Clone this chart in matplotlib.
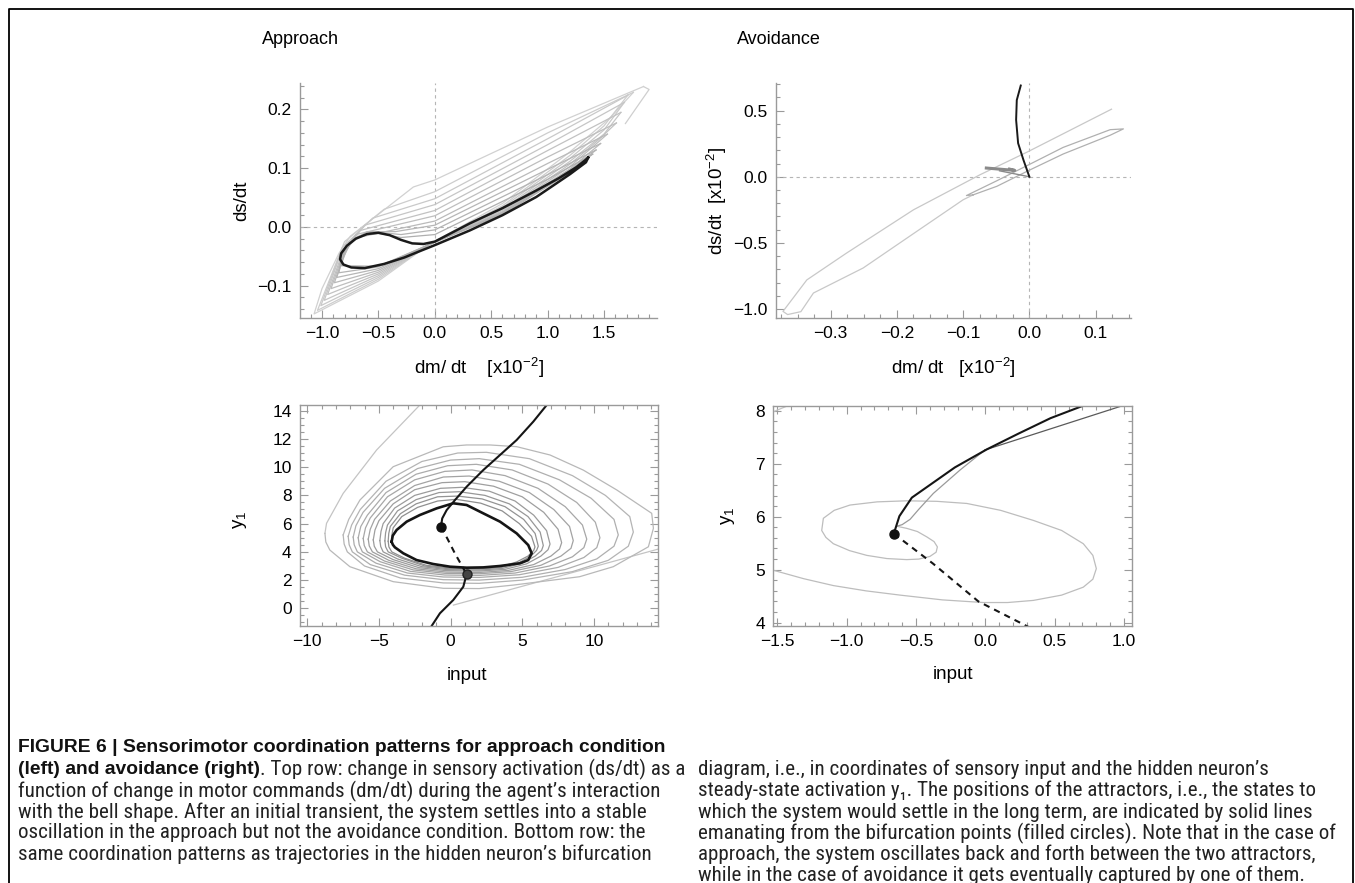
import matplotlib
matplotlib.use("Agg")
import matplotlib.pyplot as plt
from matplotlib import font_manager
from matplotlib.lines import Line2D
from matplotlib.ticker import MultipleLocator

# Fonts: Helvetica-like sans, with a fallback for the subscript digit.
plt.rcParams['font.family'] = ['Liberation Sans', 'DejaVu Sans']
plt.rcParams['mathtext.fontset'] = 'custom'
plt.rcParams['mathtext.rm'] = 'Liberation Sans'
plt.rcParams['mathtext.it'] = 'Liberation Sans:italic'
plt.rcParams['mathtext.bf'] = 'Liberation Sans:bold'

# ---------------- data ----------------
# Approach, phase plane (ds/dt vs dm/dt [x1e-2]); transient spiral, lap by lap
ap_start = [(1.69, 0.176), (1.90, 0.234), (1.85, 0.239)]
ap_laps = [
    [(1.85, 0.239), (1.0, 0.170), (0.0, 0.080), (-0.19, 0.068), (-0.75, -0.016), (-0.85, -0.045),
     (-1.0, -0.105), (-1.07, -0.148), (-0.5, -0.092), (-0.05, -0.030), (0.6, 0.040), (1.2, 0.128),
     (1.55, 0.185), (1.76, 0.229)],
    [(1.76, 0.229), (1.0, 0.160), (0.0, 0.060), (-0.45, 0.030), (-0.80, -0.025), (-1.04, -0.142),
     (-0.5, -0.089), (-0.05, -0.030), (0.6, 0.036), (1.2, 0.122), (1.5, 0.172), (1.71, 0.224)],
    [(1.71, 0.224), (1.0, 0.150), (0.0, 0.048), (-0.55, 0.015), (-0.82, -0.035), (-1.01, -0.134),
     (-0.5, -0.086), (-0.05, -0.030), (0.6, 0.033), (1.2, 0.117), (1.5, 0.165), (1.68, 0.212)],
    [(1.68, 0.212), (1.0, 0.140), (0.0, 0.038), (-0.62, 0.003), (-0.83, -0.043), (-0.98, -0.125),
     (-0.5, -0.083), (-0.05, -0.030), (0.6, 0.030), (1.2, 0.112), (1.5, 0.158), (1.65, 0.195)],
    [(1.65, 0.195), (1.0, 0.130), (0.0, 0.028), (-0.66, -0.006), (-0.83, -0.050), (-0.95, -0.115),
     (-0.5, -0.080), (-0.05, -0.030), (0.6, 0.028), (1.2, 0.107), (1.45, 0.148), (1.61, 0.177)],
    [(1.61, 0.177), (1.0, 0.119), (0.0, 0.019), (-0.70, -0.013), (-0.83, -0.055), (-0.92, -0.105),
     (-0.5, -0.077), (-0.05, -0.030), (0.6, 0.026), (1.2, 0.103), (1.53, 0.158)],
    [(1.53, 0.158), (1.0, 0.108), (0.0, 0.010), (-0.73, -0.020), (-0.83, -0.060), (-0.89, -0.095),
     (-0.5, -0.074), (-0.05, -0.030), (0.6, 0.025), (1.2, 0.099), (1.47, 0.142)],
    [(1.47, 0.142), (1.0, 0.098), (0.0, 0.003), (-0.35, -0.008), (-0.6, -0.008), (-0.76, -0.026),
     (-0.87, -0.086), (-0.5, -0.071), (-0.05, -0.030), (0.6, 0.024), (1.2, 0.097), (1.43, 0.131)],
    [(1.43, 0.131), (1.0, 0.089), (0.0, -0.005), (-0.3, -0.013), (-0.55, -0.008), (-0.72, -0.020),
     (-0.82, -0.045), (-0.85, -0.078), (-0.5, -0.068), (-0.05, -0.030), (0.6, 0.023), (1.2, 0.095),
     (1.40, 0.124)],
    [(1.40, 0.124), (1.0, 0.081), (0.0, -0.013), (-0.3, -0.018), (-0.52, -0.010), (-0.68, -0.016),
     (-0.8, -0.040), (-0.83, -0.066), (-0.5, -0.067), (-0.05, -0.030), (0.6, 0.021), (1.2, 0.093),
     (1.37, 0.120)],
]
ap_cycle = [(1.36, 0.118), (1.33, 0.113), (1.25, 0.101), (1.1, 0.083), (0.9, 0.062), (0.6, 0.032),
            (0.31, 0.006), (0.0, -0.025), (-0.1, -0.029), (-0.2, -0.028), (-0.3, -0.022),
            (-0.4, -0.014), (-0.5, -0.010), (-0.6, -0.012), (-0.7, -0.020), (-0.78, -0.032),
            (-0.83, -0.045), (-0.84, -0.055), (-0.81, -0.064), (-0.74, -0.069), (-0.62, -0.070),
            (-0.45, -0.063), (-0.27, -0.052), (-0.13, -0.041), (0.0, -0.031), (0.31, -0.006),
            (0.6, 0.020), (0.9, 0.051), (1.2, 0.090), (1.34, 0.110), (1.36, 0.118)]

# Avoidance, phase plane (both axes x1e-2)
av_big = [(0.124, 0.511), (-0.002, 0.19), (-0.075, 0.014), (-0.175, -0.25), (-0.276, -0.577),
          (-0.336, -0.78), (-0.372, -1.018), (-0.365, -1.042), (-0.345, -1.02), (-0.326, -0.879),
          (-0.251, -0.69), (-0.175, -0.43), (-0.10, -0.174), (-0.085, -0.137)]
av_small = [(-0.085, -0.137), (-0.095, -0.142), (-0.049, -0.030), (-0.002, 0.088), (0.051, 0.222),
            (0.122, 0.356), (0.142, 0.362), (0.122, 0.314), (0.051, 0.172), (-0.002, 0.045),
            (-0.049, -0.072), (-0.085, -0.137)]
av_hook = [(-0.065, 0.066), (-0.022, 0.048), (-0.030, 0.058)]
av_tail = [(-0.045, 0.045), (0.0, 0.0)]
av_black = [(0.0, 0.0), (-0.009, 0.128), (-0.017, 0.254), (-0.020, 0.43), (-0.019, 0.58),
            (-0.013, 0.69)]

# Approach, bifurcation diagram (y1 vs input)
ap_io_entry = [(0.2, 0.23), (14.5, 4.2)]
ap_io_first = [(-2.14, 14.4), (-5.16, 11.21), (-7.49, 8.14), (-8.65, 6.02), (-8.76, 5.31)]
ap_io_laps = [
    [(-8.76, 5.31), (-8.70, 4.70), (-8.42, 4.13), (-7.02, 2.95), (-4.0, 1.89), (-0.51, 1.42),
     (2.0, 1.40), (4.4, 1.65), (9.0, 2.24), (11.35, 2.95), (13.8, 4.36), (14.15, 5.67), (14.03, 6.73),
     (11.6, 8.38), (9.26, 9.79), (6.94, 10.86), (4.61, 11.45), (2.75, 11.57), (1.12, 11.57),
     (-0.51, 11.44), (-4.0, 10.03), (-6.32, 7.67), (-7.1, 6.3), (-7.49, 5.2)],
    [(-7.49, 5.2), (-7.42, 4.55), (-7.2, 4.0), (-6.0, 3.0), (-3.5, 2.15), (-0.5, 1.80), (2.0, 1.77),
     (5.0, 2.0), (8.5, 2.6), (11.0, 3.4), (12.4, 4.4), (12.75, 5.4), (12.5, 6.5), (10.8, 8.0),
     (8.5, 9.4), (5.5, 10.6), (2.5, 11.05), (0.5, 11.0), (-2.0, 10.4), (-4.5, 9.0), (-6.3, 7.0),
     (-6.9, 5.9), (-7.14, 5.1)],
    [(-7.14, 5.1), (-7.07, 4.5), (-6.85, 4.0), (-5.6, 3.1), (-3.2, 2.35), (-0.5, 2.03), (2.0, 2.0),
     (5.0, 2.2), (8.0, 2.75), (10.2, 3.5), (11.4, 4.4), (11.7, 5.2), (11.4, 6.3), (9.8, 7.8),
     (7.6, 9.1), (4.8, 10.2), (2.0, 10.6), (0.0, 10.5), (-2.3, 9.9), (-4.6, 8.5), (-6.1, 6.8),
     (-6.6, 5.85), (-6.79, 5.05)],
    [(-6.79, 5.05), (-6.72, 4.5), (-6.5, 4.0), (-5.2, 3.2), (-3.0, 2.5), (-0.5, 2.22), (2.0, 2.19),
     (4.8, 2.38), (7.5, 2.9), (9.3, 3.6), (10.2, 4.3), (10.42, 5.0), (10.1, 6.1), (8.8, 7.5),
     (6.8, 8.8), (4.3, 9.8), (1.8, 10.2), (-0.2, 10.1), (-2.4, 9.5), (-4.5, 8.2), (-5.8, 6.6),
     (-6.26, 5.8), (-6.44, 5.0)],
    [(-6.44, 5.0), (-6.37, 4.5), (-6.15, 4.0), (-4.9, 3.3), (-2.8, 2.62), (-0.4, 2.36), (2.0, 2.33),
     (4.5, 2.5), (6.9, 3.0), (8.5, 3.65), (9.3, 4.3), (9.5, 4.9), (9.2, 5.9), (8.0, 7.2),
     (6.1, 8.5), (3.8, 9.4), (1.5, 9.8), (-0.4, 9.7), (-2.5, 9.1), (-4.4, 7.9), (-5.6, 6.4),
     (-5.93, 5.7), (-6.09, 4.95)],
    [(-6.09, 4.95), (-6.02, 4.45), (-5.8, 4.0), (-4.6, 3.35), (-2.6, 2.72), (-0.4, 2.48), (2.0, 2.45),
     (4.2, 2.6), (6.3, 3.05), (7.7, 3.7), (8.4, 4.25), (8.56, 4.8), (8.3, 5.8), (7.2, 7.0),
     (5.5, 8.2), (3.4, 9.0), (1.3, 9.37), (-0.5, 9.3), (-2.5, 8.7), (-4.2, 7.6), (-5.3, 6.3),
     (-5.6, 5.6), (-5.74, 4.9)],
    [(-5.74, 4.9), (-5.67, 4.42), (-5.45, 4.0), (-4.3, 3.4), (-2.4, 2.8), (-0.3, 2.57), (2.0, 2.54),
     (4.0, 2.68), (5.8, 3.1), (7.0, 3.7), (7.6, 4.2), (7.75, 4.65), (7.5, 5.6), (6.5, 6.8),
     (5.0, 7.9), (3.0, 8.65), (1.0, 8.97), (-0.6, 8.9), (-2.5, 8.4), (-4.0, 7.4), (-5.0, 6.2),
     (-5.27, 5.55), (-5.39, 4.85)],
    [(-5.39, 4.85), (-5.32, 4.4), (-5.1, 4.0), (-4.0, 3.45), (-2.2, 2.88), (-0.3, 2.67), (2.0, 2.64),
     (3.8, 2.76), (5.3, 3.15), (6.3, 3.7), (6.8, 4.15), (6.94, 4.55), (6.7, 5.5), (5.8, 6.6),
     (4.5, 7.6), (2.7, 8.3), (0.8, 8.57), (-0.7, 8.5), (-2.5, 8.0), (-3.9, 7.1), (-4.7, 6.0),
     (-4.85, 5.45), (-4.93, 4.8)],
    [(-4.93, 4.8), (-4.87, 4.38), (-4.7, 4.0), (-3.7, 3.5), (-2.0, 2.95), (-0.2, 2.74), (2.0, 2.71),
     (3.6, 2.82), (5.0, 3.2), (5.9, 3.7), (6.35, 4.1), (6.47, 4.45), (6.25, 5.4), (5.4, 6.5),
     (4.1, 7.4), (2.4, 8.0), (0.6, 8.26), (-0.8, 8.2), (-2.4, 7.7), (-3.7, 6.9), (-4.4, 5.9),
     (-4.53, 5.35), (-4.58, 4.78)],
    [(-4.58, 4.78), (-4.53, 4.36), (-4.35, 4.0), (-3.4, 3.55), (-1.8, 3.0), (-0.2, 2.81), (2.0, 2.78),
     (3.5, 2.88), (4.8, 3.25), (5.6, 3.7), (6.0, 4.1), (6.12, 4.4), (5.9, 5.3), (5.1, 6.3),
     (3.8, 7.2), (2.2, 7.75), (0.5, 7.95), (-0.9, 7.9), (-2.4, 7.4), (-3.5, 6.7), (-4.2, 5.8),
     (-4.31, 5.3), (-4.35, 4.75)],
    [(-4.35, 4.75), (-4.3, 4.35), (-4.1, 4.0), (-3.2, 3.55), (-1.7, 3.05), (-0.1, 2.86), (2.0, 2.83),
     (3.4, 2.93), (4.6, 3.28), (5.4, 3.7), (5.8, 4.1), (5.89, 4.35), (5.65, 5.1), (4.8, 6.0),
     (3.6, 6.9), (2.1, 7.45), (0.4, 7.72), (-0.9, 7.6), (-2.3, 7.15), (-3.4, 6.5), (-4.0, 5.7),
     (-4.08, 5.25), (-4.11, 4.72)],
]
ap_io_cycle = [(-4.11, 4.72), (-4.03, 5.15), (-3.76, 5.55), (-3.06, 6.14), (-2.14, 6.61),
               (-0.97, 7.08), (0.19, 7.44), (1.12, 7.32), (2.28, 6.73), (3.45, 6.14), (4.61, 5.31),
               (5.42, 4.48), (5.66, 3.9), (5.42, 3.42), (4.84, 3.19), (3.45, 3.0), (2.28, 2.9),
               (1.12, 2.88), (-0.04, 2.95), (-1.21, 3.14), (-2.37, 3.42), (-3.3, 3.9), (-3.88, 4.32),
               (-4.02, 4.5), (-4.11, 4.72)]
ap_upper_branch = [(-0.67, 5.78), (-0.58, 6.37), (-0.27, 6.96), (0.31, 7.67), (1.12, 8.61),
                   (2.28, 9.79), (3.45, 10.86), (4.61, 11.92), (5.77, 13.22), (6.71, 14.4)]
ap_unstable = [(-0.67, 5.78), (-0.2, 4.9), (0.3, 3.9), (0.8, 3.0), (1.12, 2.41)]
ap_lower_branch = [(1.12, 2.41), (0.89, 1.53), (0.19, 0.59), (-0.74, -0.35), (-1.32, -1.25)]
ap_bif_points = [(-0.67, 5.78), (1.12, 2.41)]

# Avoidance, bifurcation diagram
av_io_corner = [(-1.53, 7.98), (-1.41, 8.11)]
av_io_exit = [(1.007, 8.11), (-0.003, 7.26)]
av_io_curl = [(-0.003, 7.26), (-0.183, 6.88), (-0.375, 6.44), (-0.48, 6.14), (-0.543, 5.95),
              (-0.60, 5.85), (-0.639, 5.82)]
av_io_spiral = [(-0.639, 5.82), (-0.567, 5.78), (-0.49, 5.72), (-0.423, 5.62), (-0.37, 5.53),
                (-0.346, 5.43), (-0.355, 5.33), (-0.40, 5.25), (-0.48, 5.20), (-0.567, 5.19),
                (-0.71, 5.21), (-0.855, 5.27), (-0.98, 5.36), (-1.096, 5.49), (-1.15, 5.61),
                (-1.18, 5.74), (-1.168, 5.97), (-1.09, 6.12), (-0.976, 6.22), (-0.78, 6.28),
                (-0.567, 6.30), (-0.35, 6.29), (-0.134, 6.25), (0.11, 6.12), (0.346, 5.93),
                (0.55, 5.74), (0.706, 5.49), (0.775, 5.27), (0.80, 5.02), (0.775, 4.82),
                (0.706, 4.67), (0.55, 4.52), (0.346, 4.42), (0.16, 4.38), (-0.015, 4.38),
                (-0.31, 4.43), (-0.615, 4.52), (-0.86, 4.60), (-1.096, 4.70), (-1.31, 4.83),
                (-1.53, 4.99)]
av_upper_branch = [(-0.66, 5.68), (-0.62, 6.01), (-0.53, 6.36), (-0.22, 6.93), (0.01, 7.27),
                   (0.24, 7.57), (0.47, 7.86), (0.70, 8.09)]
av_unstable = [(-0.66, 5.68), (-0.38, 5.12), (-0.05, 4.40), (0.31, 3.92)]
av_bif_point = (-0.66, 5.68)

titles = ["Approach", "Avoidance"]
caption_left = [
    ("FIGURE 6 | Sensorimotor coordination patterns for approach condition", ""),
    ("(left) and avoidance (right)", ". Top row: change in sensory activation (ds/dt) as a"),
    ("", "function of change in motor commands (dm/dt) during the agent\u2019s interaction"),
    ("", "with the bell shape. After an initial transient, the system settles into a stable"),
    ("", "oscillation in the approach but not the avoidance condition. Bottom row: the"),
    ("", "same coordination patterns as trajectories in the hidden neuron\u2019s bifurcation"),
]
caption_right = [
    "diagram, i.e., in coordinates of sensory input and the hidden neuron\u2019s",
    "steady-state activation y\u2081. The positions of the attractors, i.e., the states to",
    "which the system would settle in the long term, are indicated by solid lines",
    "emanating from the bifurcation points (filled circles). Note that in the case of",
    "approach, the system oscillates back and forth between the two attractors,",
    "while in the case of avoidance it gets eventually captured by one of them.",
]


def xs(pts):
    return [p[0] for p in pts]


def ys(pts):
    return [p[1] for p in pts]


W, H = 1355, 883
fig = plt.figure(figsize=(W / 100, H / 100), dpi=100)


def box(left, top, right, bottom):
    return [left / W, 1 - bottom / H, (right - left) / W, (bottom - top) / H]


SPINE = '#9a9a9a'


def style(ax, frame, xmaj, xmin, ymaj, ymin):
    ax.xaxis.set_major_locator(MultipleLocator(xmaj))
    ax.xaxis.set_minor_locator(MultipleLocator(xmin))
    ax.yaxis.set_major_locator(MultipleLocator(ymaj))
    ax.yaxis.set_minor_locator(MultipleLocator(ymin))
    for s in ax.spines.values():
        s.set_color(SPINE)
        s.set_linewidth(1.0)
    if not frame:
        ax.spines['top'].set_visible(False)
        ax.spines['right'].set_visible(False)
    ax.tick_params(which='both', direction='in', color=SPINE, labelsize=12.5,
                   top=frame, right=frame, width=0.8)
    ax.tick_params(which='major', length=6, pad=6)
    ax.tick_params(which='minor', length=3)


def labels(ax, xl, yl, xpos, ypos):
    ax.set_xlabel(xl, fontsize=13.5)
    ax.set_ylabel(yl, fontsize=13.5)
    ax.xaxis.set_label_coords(*xpos)
    ax.yaxis.set_label_coords(*ypos)
    ax.xaxis.label.set_va('center')
    ax.yaxis.label.set_va('center')


# ---- top left: approach phase plane ----
ax1 = fig.add_axes(box(300, 83, 657, 318))
ax1.axhline(0, color='#b5b5b5', lw=0.8, ls=(0, (3, 3)))
ax1.axvline(0, color='#b5b5b5', lw=0.8, ls=(0, (3, 3)))
ax1.plot(xs(ap_start), ys(ap_start), color='#cfcfcf', lw=0.9)
for i, lap in enumerate(ap_laps):
    g = 0.82 - 0.015 * i
    ax1.plot(xs(lap), ys(lap), color=(g, g, g), lw=0.9)
ax1.plot(xs(ap_cycle), ys(ap_cycle), color='#1a1a1a', lw=1.8)
ax1.set_xlim(-1.195, 1.97)
ax1.set_ylim(-0.155, 0.245)
style(ax1, False, 0.5, 0.1, 0.1, 0.02)
labels(ax1, 'dm/ dt    [x10$^{-2}$]', 'ds/dt', (0.5, -0.213), (-0.162, 0.5))

# ---- top right: avoidance phase plane ----
ax2 = fig.add_axes(box(775.7, 83, 1130.7, 318))
ax2.axhline(0, color='#b5b5b5', lw=0.8, ls=(0, (3, 3)))
ax2.axvline(0, color='#b5b5b5', lw=0.8, ls=(0, (3, 3)))
ax2.plot(xs(av_big), ys(av_big), color='#c8c8c8', lw=0.9)
ax2.plot(xs(av_small), ys(av_small), color='#b0b0b0', lw=0.9)
ax2.plot(xs(av_tail), ys(av_tail), color='#8a8a8a', lw=1.0)
ax2.plot(xs(av_hook), ys(av_hook), color='#8a8a8a', lw=2.2)
ax2.plot(xs(av_black), ys(av_black), color='#1a1a1a', lw=1.4)
ax2.set_xlim(-0.383, 0.153)
ax2.set_ylim(-1.068, 0.709)
style(ax2, False, 0.1, 0.025, 0.5, 0.1)
labels(ax2, 'dm/ dt   [x10$^{-2}$]', 'ds/dt  [x10$^{-2}$]', (0.5, -0.213), (-0.165, 0.5))

# ---- bottom left: approach bifurcation diagram ----
ax3 = fig.add_axes(box(300, 405, 658, 626))
ax3.plot(xs(ap_io_entry), ys(ap_io_entry), color='#c4c4c4', lw=0.9)
ax3.plot(xs(ap_io_first), ys(ap_io_first), color='#c4c4c4', lw=0.9)
for i, lap in enumerate(ap_io_laps):
    g = 0.72 - 0.016 * i
    ax3.plot(xs(lap), ys(lap), color=(g, g, g), lw=0.9)
ax3.plot(xs(ap_io_cycle), ys(ap_io_cycle), color='#151515', lw=1.9)
ax3.plot(xs(ap_upper_branch), ys(ap_upper_branch), color='#151515', lw=1.5)
ax3.plot(xs(ap_lower_branch), ys(ap_lower_branch), color='#151515', lw=1.5)
ax3.plot(xs(ap_unstable), ys(ap_unstable), color='#151515', lw=1.5, ls=(0, (3, 2.5)))
ax3.plot(xs(ap_bif_points[:1]), ys(ap_bif_points[:1]), 'o', color='#111111', ms=6.5, zorder=5)
ax3.plot(xs(ap_bif_points[1:]), ys(ap_bif_points[1:]), 'o', color='#444444', mec='#222222',
         ms=6.5, zorder=5)
ax3.set_xlim(-10.5, 14.47)
ax3.set_ylim(-1.25, 14.4)
style(ax3, True, 5, 1, 2, 0.5)
labels(ax3, 'input', 'y$_{1}$', (0.466, -0.222), (-0.168, 0.48))

# ---- bottom right: avoidance bifurcation diagram ----
ax4 = fig.add_axes(box(773.3, 405.7, 1131.7, 626))
ax4.plot(xs(av_io_corner), ys(av_io_corner), color='#c4c4c4', lw=0.9)
ax4.plot(xs(av_io_spiral), ys(av_io_spiral), color='#bdbdbd', lw=0.9)
ax4.plot(xs(av_io_curl), ys(av_io_curl), color='#9a9a9a', lw=0.9)
ax4.plot(xs(av_io_exit), ys(av_io_exit), color='#5a5a5a', lw=0.9)
ax4.plot(xs(av_upper_branch), ys(av_upper_branch), color='#151515', lw=1.5)
ax4.plot(xs(av_unstable), ys(av_unstable), color='#151515', lw=1.5, ls=(0, (3, 2.5)))
ax4.plot([av_bif_point[0]], [av_bif_point[1]], 'o', color='#111111', ms=6.5, zorder=5)
ax4.set_xlim(-1.529, 1.055)
ax4.set_ylim(3.937, 8.095)
style(ax4, True, 0.5, 0.1, 1, 0.2)
labels(ax4, 'input', 'y$_{1}$', (0.5, -0.222), (-0.126, 0.5))

# ---- column titles ----
fig.text(262 / W, 1 - 40 / H, titles[0], fontsize=13, va='center', ha='left')
fig.text(737 / W, 1 - 40 / H, titles[1], fontsize=13, va='center', ha='left')

# ---- caption: a narrow face for the body if one is installed ----
fonts = font_manager.fontManager.ttflist
names = {f.name for f in fonts}
cap_kw = {'family': ['Liberation Sans', 'DejaVu Sans']}
if 'Liberation Sans Narrow' in names:
    cap_kw = {'family': ['Liberation Sans Narrow', 'DejaVu Sans']}
elif 'Roboto Condensed' in names:
    cap_kw = {'family': ['Roboto Condensed', 'DejaVu Sans']}
elif any(f.name == 'DejaVu Sans' and f.stretch == 'condensed' for f in fonts):
    cap_kw = {'family': ['DejaVu Sans'], 'fontstretch': 'condensed'}
bold_kw = {'family': ['Liberation Sans', 'DejaVu Sans'], 'fontweight': 'bold'}

renderer = fig.canvas.get_renderer()


def fit_size(text, target, **kw):
    probe = fig.text(0, 0, text, fontsize=12, **kw)
    wpx = probe.get_window_extent(renderer).width
    probe.remove()
    return 12 * target / wpx


cap_size = fit_size(caption_left[2][1], 644, **cap_kw)
bold_size = fit_size(caption_left[0][0], 645, **bold_kw)

left_y = [748, 769, 791, 812, 833, 854]
for (bold, plain), yy in zip(caption_left, left_y):
    x0 = 18
    if bold:
        t = fig.text(x0 / W, 1 - yy / H, bold, fontsize=bold_size, va='center', ha='left',
                     color='#111111', **bold_kw)
        x0 += t.get_window_extent(renderer).width
    if plain:
        fig.text(x0 / W, 1 - yy / H, plain, fontsize=cap_size, va='center', ha='left',
                 color='#222222', **cap_kw)

right_y = [769, 790, 812, 833, 854, 875]
for line, yy in zip(caption_right, right_y):
    fig.text(698 / W, 1 - yy / H, line, fontsize=cap_size, va='center', ha='left',
             color='#222222', **cap_kw)

# ---- outer frame of the figure (open at the bottom) ----
fig.add_artist(Line2D([9 / W, 9 / W, 1353 / W, 1353 / W], [0, 1 - 9 / H, 1 - 9 / H, 0],
                      transform=fig.transFigure, color='black', lw=1.3))

fig.savefig('out.png', dpi=100)
